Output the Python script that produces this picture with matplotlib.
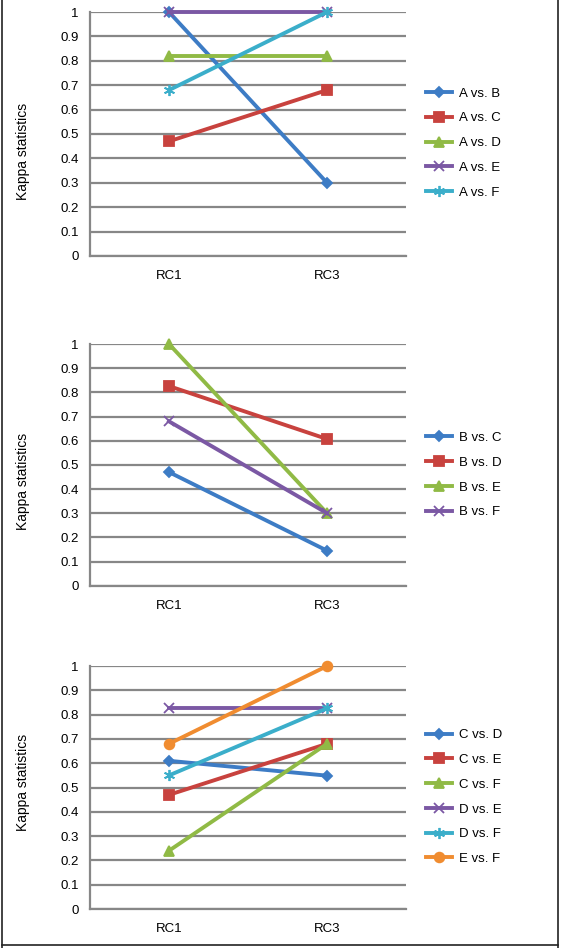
import matplotlib.pyplot as plt
from matplotlib.lines import Line2D

plt.rcParams['font.family'] = ['Liberation Sans', 'DejaVu Sans']

rounds = ['RC1', 'RC3']
y_ticks = [0, 0.1, 0.2, 0.3, 0.4, 0.5, 0.6, 0.7, 0.8, 0.9, 1.0]
y_tick_labels = ['0', '0.1', '0.2', '0.3', '0.4', '0.5', '0.6', '0.7', '0.8', '0.9', '1']

# panel 1
labels_a = ['A vs. B', 'A vs. C', 'A vs. D', 'A vs. E', 'A vs. F']
a_vs_b = [1.0, 0.30]
a_vs_c = [0.47, 0.68]
a_vs_d = [0.82, 0.82]
a_vs_e = [1.0, 1.0]
a_vs_f = [0.68, 1.0]

# panel 2
labels_b = ['B vs. C', 'B vs. D', 'B vs. E', 'B vs. F']
b_vs_c = [0.47, 0.145]
b_vs_d = [0.826, 0.607]
b_vs_e = [1.0, 0.30]
b_vs_f = [0.68, 0.30]

# panel 3
labels_c = ['C vs. D', 'C vs. E', 'C vs. F', 'D vs. E', 'D vs. F', 'E vs. F']
c_vs_d = [0.61, 0.549]
c_vs_e = [0.47, 0.68]
c_vs_f = [0.24, 0.68]
d_vs_e = [0.826, 0.826]
d_vs_f = [0.55, 0.826]
e_vs_f = [0.68, 1.0]

colors = ['#3D7CC5', '#C8423E', '#90BA45', '#7B58A4', '#3BAECA', '#F08C30']
markers = ['D', 's', '^', 'x', (6, 2, 0), 'o']
msizes = [5.5, 7, 7.5, 7, 8, 7]

# label y position (axes fraction) and legend centre (pixels from top)
panels = [
    (labels_a, [a_vs_b, a_vs_c, a_vs_d, a_vs_e, a_vs_f], [0.7300, 0.2573], 143, 0.43),
    (labels_b, [b_vs_c, b_vs_d, b_vs_e, b_vs_f], [0.3822, 0.2549], 475, 0.43),
    (labels_c, [c_vs_d, c_vs_e, c_vs_f, d_vs_e, d_vs_f, e_vs_f], [0.0411, 0.2563], 797, 0.52),
]

W, H = 561, 948
fig = plt.figure(figsize=(W / 100, H / 100), dpi=100)
grid_col = '#878787'

for labels, series, (bottom, height), leg_y, lab_y in panels:
    ax = fig.add_axes([0.1604, bottom, 0.5633, height])
    for i, (lab, vals) in enumerate(zip(labels, series)):
        ax.plot(range(len(rounds)), vals, color=colors[i], lw=2.8,
                marker=markers[i], markersize=msizes[i], mew=1.3,
                label=lab, zorder=3 + i, clip_on=False)
    ax.set_xlim(-0.5, 1.5)
    ax.set_ylim(0, 1)
    ax.set_xticks(range(len(rounds)))
    ax.set_xticklabels(rounds, fontsize=9.5)
    ax.set_yticks(y_ticks)
    ax.set_yticklabels(y_tick_labels, fontsize=9.5)
    ax.tick_params(axis='both', length=0)
    ax.tick_params(axis='y', pad=8)
    ax.tick_params(axis='x', pad=10)
    ax.grid(axis='y', color=grid_col, lw=1.6)
    ax.set_axisbelow(True)
    for s in ['top', 'right']:
        ax.spines[s].set_visible(False)
    for s in ['left', 'bottom']:
        ax.spines[s].set_color(grid_col)
        ax.spines[s].set_linewidth(1.6)
    ax.set_ylabel('Kappa statistics', fontsize=10)
    ax.yaxis.set_label_coords(-0.19, lab_y)
    fig.legend(*ax.get_legend_handles_labels(), loc='center left',
               bbox_to_anchor=(426 / W, 1 - leg_y / H), frameon=False,
               fontsize=9.5, handlelength=2.0, handletextpad=0.5,
               labelspacing=0.95, borderpad=0, borderaxespad=0)

# outer frame (top edge cropped off in the original)
for xs, ys in [([2 / W, 2 / W], [0, 1]), ([558 / W, 558 / W], [0, 1]),
               ([2 / W, 558 / W], [3 / H, 3 / H])]:
    fig.add_artist(Line2D(xs, ys, color='#222222', lw=1.2))

fig.savefig('out.png', dpi=100)
